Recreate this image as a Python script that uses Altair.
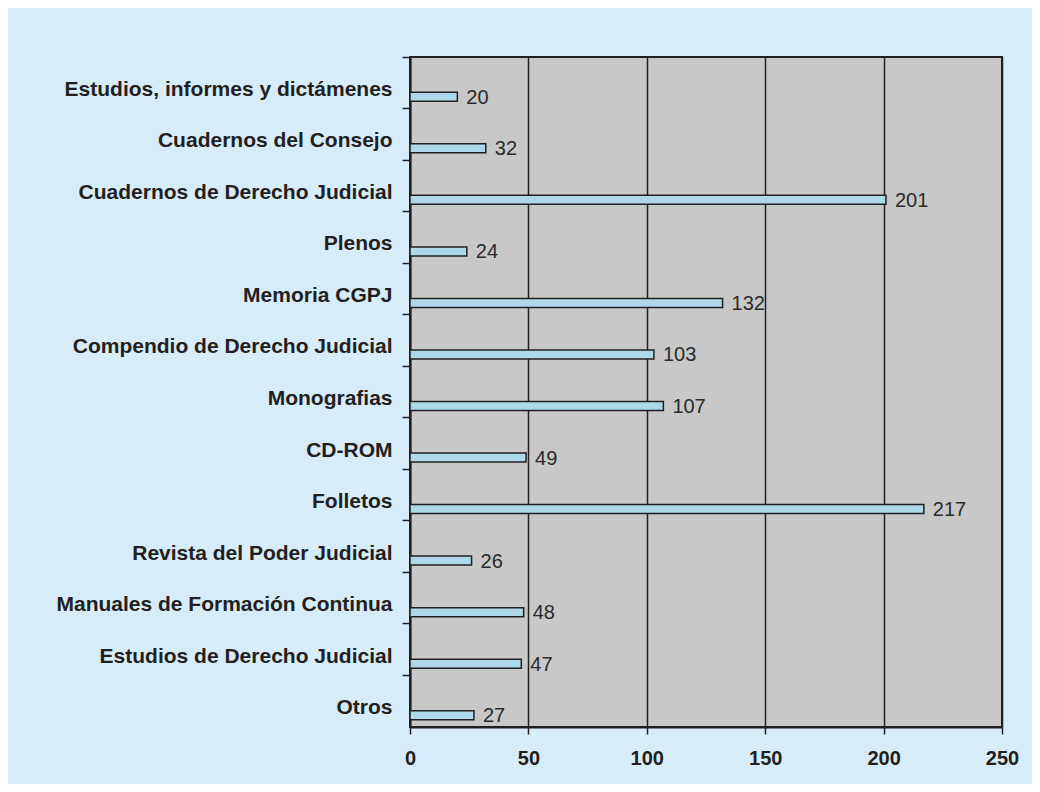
import altair as alt
import pandas as pd

categories = [
    "Estudios, informes y dictámenes",
    "Cuadernos del Consejo",
    "Cuadernos de Derecho Judicial",
    "Plenos",
    "Memoria CGPJ",
    "Compendio de Derecho Judicial",
    "Monografias",
    "CD-ROM",
    "Folletos",
    "Revista del Poder Judicial",
    "Manuales de Formación Continua",
    "Estudios de Derecho Judicial",
    "Otros",
]
values = [20, 32, 201, 24, 132, 103, 107, 49, 217, 26, 48, 47, 27]
x_ticks = [0, 50, 100, 150, 200, 250]

df = pd.DataFrame({"cat": categories, "val": values})

FONT = "Liberation Sans"
DARK = "#231f20"

y_enc = alt.Y(
    "cat:N",
    sort=categories,
    title=None,
    scale=alt.Scale(paddingInner=0, paddingOuter=0),
    axis=alt.Axis(
        bandPosition=0,
        labelOffset=7,
        labelFont=FONT,
        labelFontSize=21,
        labelFontWeight="bold",
        labelColor=DARK,
        labelPadding=10,
        tickSize=8,
        tickColor=DARK,
        tickWidth=1.5,
        domainColor=DARK,
        domainWidth=2,
        grid=False,
        labelLimit=500,
    ),
)

x_enc = alt.X(
    "val:Q",
    title=None,
    scale=alt.Scale(domain=[0, 250], nice=False),
    axis=alt.Axis(
        values=x_ticks,
        labelFlush=False,
        labelFont=FONT,
        labelFontSize=20,
        labelFontWeight="bold",
        labelColor=DARK,
        labelPadding=14,
        tickSize=7,
        tickColor=DARK,
        tickWidth=1.5,
        domainColor=DARK,
        domainWidth=2,
        grid=True,
        gridColor=DARK,
        gridWidth=1.5,
        gridOpacity=1,
    ),
)

bars = alt.Chart(df).mark_bar(
    height=9,
    yOffset=14,
    fill="#acd8ea",
    stroke=DARK,
    strokeWidth=1.5,
).encode(x=x_enc, y=y_enc)

labels = alt.Chart(df).mark_text(
    align="left",
    baseline="middle",
    dx=9,
    yOffset=15,
    font=FONT,
    fontSize=20,
    color="#2a2a2a",
).encode(x="val:Q", y=alt.Y("cat:N", sort=categories), text="val:Q")

chart = (
    alt.layer(bars, labels)
    .properties(
        width=592,
        height=670,
        background="#d6ecf9",
        padding={"left": 402, "top": 49, "right": 30, "bottom": 57},
        autosize=alt.AutoSizeParams(type="none"),
    )
    .configure_view(fill="#c8c8c8", stroke=DARK, strokeWidth=2)
)

chart.save("out.html", embed_options={"renderer": "svg", "actions": False})
